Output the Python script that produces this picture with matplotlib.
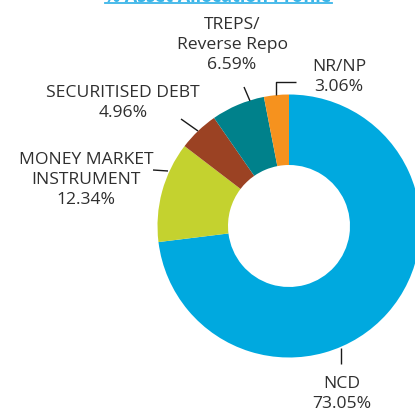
import matplotlib
matplotlib.use("Agg")
import matplotlib.pyplot as plt

plt.rcParams['font.family'] = ['Open Sans', 'DejaVu Sans']

labels = ['NCD', 'MONEY MARKET\nINSTRUMENT', 'SECURITISED DEBT',
          'TREPS/\nReverse Repo', 'NR/NP']
shares = [73.05, 12.34, 4.96, 6.59, 3.06]
colors = ['#00a9df', '#c4d22f', '#9b4223', '#00818b', '#f6921e']
title = '% Asset Allocation Profile'

W, H = 415, 411
fig = plt.figure(figsize=(W / 100, H / 100), dpi=100)
ax = fig.add_axes([0, 0, 1, 1])

# pixel-like coordinates, y measured from top
cx, cy, r_out, r_in = 289, 226, 131.5, 61

ax.pie(shares, colors=colors, startangle=90, counterclock=False,
       center=(cx, H - cy), radius=r_out,
       wedgeprops=dict(width=r_out - r_in, linewidth=0))
ax.set_xlim(0, W)
ax.set_ylim(0, H)
ax.set_aspect('equal')
ax.axis('off')


def py(y):
    return H - y


txt_color = '#2f2f2f'
fs = 12.6

# label block centre (x, y) and leader line points
label_specs = [
    ((342, 394), [(341, 348), (341, 364)]),
    ((86, 180), [(153, 170), (168, 171)]),
    ((123, 103), [(181, 119), (198, 131)]),
    ((232, 45), [(244, 87), (250, 101)]),
    ((339, 77), [(296, 82), (276, 82), (276, 95)]),
]

for lab, val, ((tx, ty), pts) in zip(labels, shares, label_specs):
    ax.text(tx, py(ty), f'{lab}\n{val:.2f}%', ha='center', va='center',
            fontsize=fs, color=txt_color, linespacing=1.36)
    xs = [p[0] for p in pts]
    ys = [py(p[1]) for p in pts]
    ax.plot(xs, ys, color='#1a1a1a', linewidth=1.0, solid_capstyle='butt')

# header, mostly clipped by the top edge
ax.text(218, py(2.5), title, ha='center', va='baseline', fontsize=13,
        fontweight='bold', color='#3bb5e8', clip_on=False)
ax.plot([105, 332], [py(3.3), py(3.3)], color='#3bb5e8', linewidth=1.3)

fig.savefig('out.png', dpi=100)
